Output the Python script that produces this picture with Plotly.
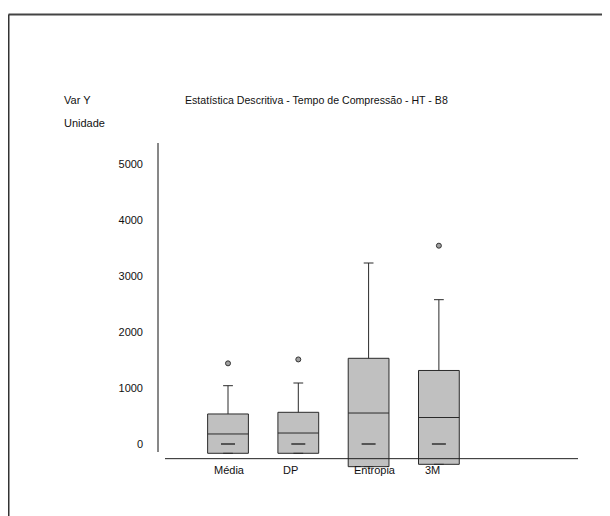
import plotly.graph_objects as go

# dados
categorias = ["Média", "DP", "Entropia", "3M"]
q1 = [-166, -166, -405, -363]
mediana = [179, 196, 553, 473]
q3 = [536, 566, 1530, 1313]
limite_sup = [1041, 1089, 3232, 2577]
outlier_x = [0, 1, 3]
outlier_y = [1440, 1510, 3541]
traco_y = [0, 0, 0, 0]
y_ticks = [0, 1000, 2000, 3000, 4000, 5000]

pos = list(range(len(categorias)))
fonte = "Liberation Sans, Arial, sans-serif"
desloc_rotulo = [1, -8, 6, -6]  # os rótulos não ficam bem centrados nas caixas


def px_x(p):
    # pixel horizontal da página -> coordenada paper
    return (p - 158) / 420


def px_y(p):
    # pixel vertical da página -> coordenada paper
    return (480 - p) / 337


fig = go.Figure()

fig.add_trace(go.Box(
    x=pos,
    q1=q1,
    median=mediana,
    q3=q3,
    lowerfence=q1,
    upperfence=limite_sup,
    boxpoints=False,
    width=0.58,
    whiskerwidth=0.24,
    fillcolor="#c0c0c0",
    line=dict(color="#2a2a2a", width=1),
    showlegend=False,
    hoverinfo="skip",
))

fig.add_trace(go.Scatter(
    x=pos, y=traco_y, mode="markers",
    marker=dict(symbol="line-ew", size=10, line=dict(color="#555555", width=2)),
    showlegend=False, hoverinfo="skip",
))

fig.add_trace(go.Scatter(
    x=outlier_x, y=outlier_y, mode="markers",
    marker=dict(symbol="circle", size=5, color="#a0a0a0", line=dict(color="#333333", width=1)),
    showlegend=False, hoverinfo="skip",
))

# rótulos das categorias abaixo do eixo
for i, c in enumerate(categorias):
    fig.add_annotation(x=i, y=-464, xref="x", yref="y", text=c, showarrow=False,
                       xshift=desloc_rotulo[i],
                       font=dict(size=11, color="#111111", family=fonte))

fig.add_annotation(text="Estatística Descritiva - Tempo de Compressão - HT - B8",
                   x=px_x(316), y=px_y(100), xref="paper", yref="paper",
                   xanchor="center", yanchor="middle", showarrow=False,
                   font=dict(size=10.6))
fig.add_annotation(text="Var Y", x=px_x(62), y=px_y(100), xref="paper", yref="paper",
                   xanchor="left", yanchor="middle", showarrow=False)
fig.add_annotation(text="Unidade", x=px_x(62), y=px_y(123), xref="paper", yref="paper",
                   xanchor="left", yanchor="middle", showarrow=False)

# linhas dos eixos e moldura
fig.add_shape(type="line", xref="paper", yref="y", x0=0, x1=0, y0=-143, y1=5375,
              line=dict(color="#111111", width=1))
fig.add_shape(type="line", xref="paper", yref="y", x0=px_x(165), x1=1, y0=-262, y1=-262,
              line=dict(color="#222222", width=1))
fig.add_shape(type="line", xref="paper", yref="paper", x0=px_x(8.5), x1=1.2,
              y0=px_y(14.5), y1=px_y(14.5), line=dict(color="#444444", width=2))
fig.add_shape(type="line", xref="paper", yref="paper", x0=px_x(8.5), x1=px_x(8.5),
              y0=-0.2, y1=px_y(14.5), line=dict(color="#333333", width=2))

fig.update_layout(
    width=610, height=516,
    margin=dict(l=150, r=40, t=135, b=44),
    plot_bgcolor="white", paper_bgcolor="white",
    font=dict(family=fonte, size=11, color="#111111"),
)
fig.update_xaxes(range=[-0.996, 4.979], showgrid=False, zeroline=False,
                 showline=False, showticklabels=False, ticks="")
fig.update_yaxes(range=[-643, 5375], tickvals=y_ticks, showgrid=False, zeroline=False,
                 showline=False, ticks="", ticklabelstandoff=14,
                 tickfont=dict(size=11, family=fonte))

fig.write_html("out.html")
